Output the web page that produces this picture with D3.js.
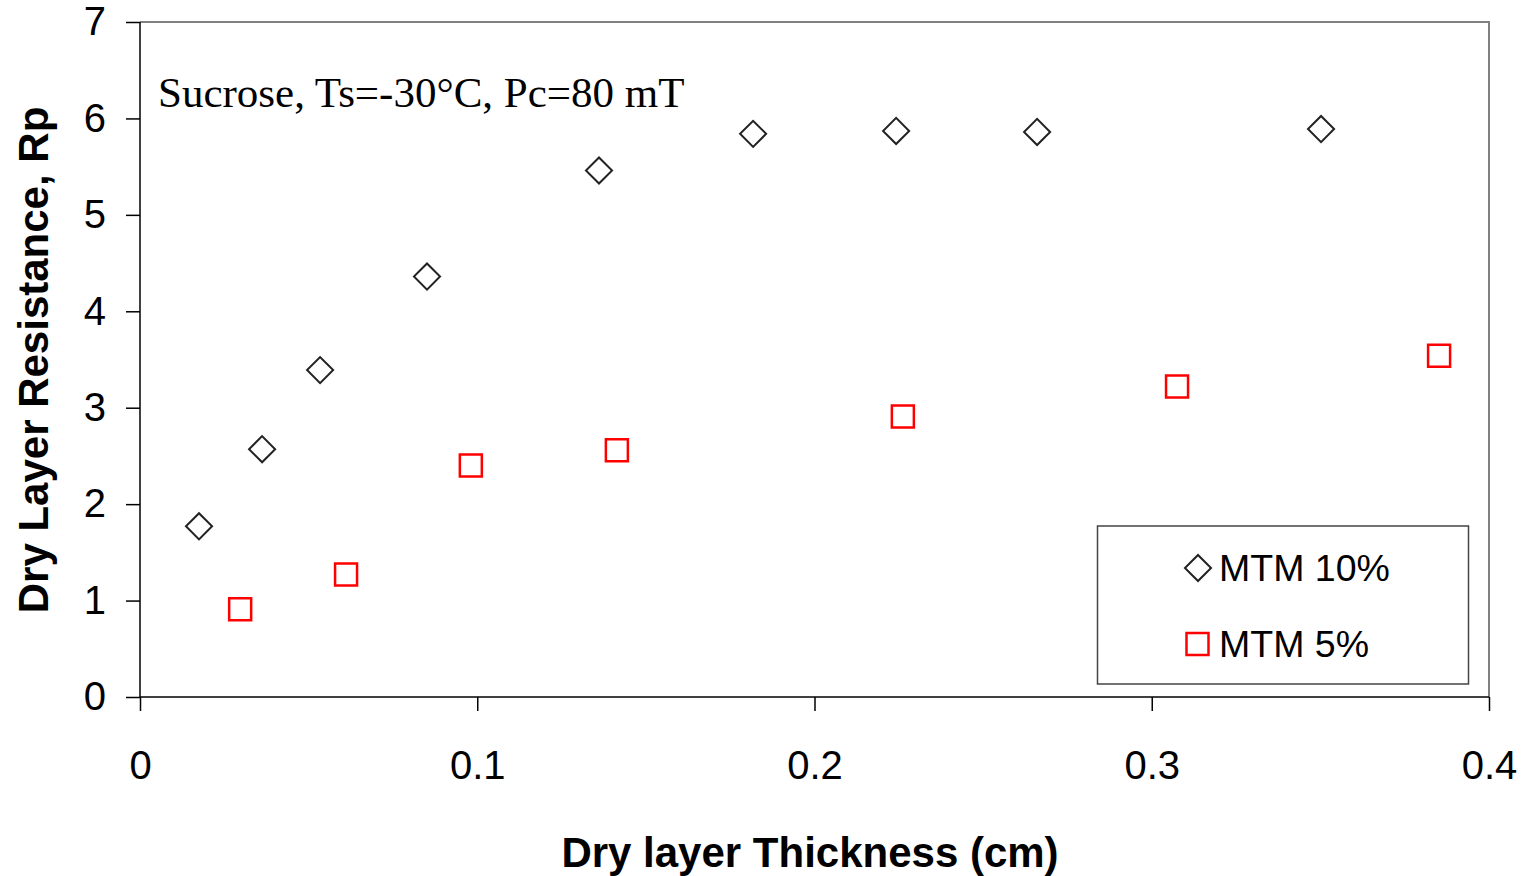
<!DOCTYPE html>
<html>
<head>
<meta charset="utf-8">
<title>Dry Layer Resistance</title>
<script src="https://d3js.org/d3.v7.min.js"></script>
<style>
  body { margin: 0; background: #fff; }
  svg text { font-family: "Liberation Sans", Arial, sans-serif; }
</style>
</head>
<body>
<div id="chart"></div>
<script>
// data
var mtm10X = [0.0175, 0.0362, 0.0534, 0.0851, 0.1361, 0.1818, 0.2242, 0.2660, 0.3502];
var mtm10Y = [1.77, 2.57, 3.39, 4.36, 5.46, 5.84, 5.87, 5.86, 5.89];
var mtm5X = [0.0297, 0.0611, 0.0981, 0.1414, 0.2262, 0.3075, 0.3852];
var mtm5Y = [0.91, 1.27, 2.40, 2.56, 2.91, 3.22, 3.54];
var xTicks = [0, 0.1, 0.2, 0.3, 0.4];
var yTicks = [0, 1, 2, 3, 4, 5, 6, 7];
var seriesNames = ["MTM 10%", "MTM 5%"];

var width = 1527, height = 876;
var plotLeft = 140, plotRight = 1489, plotTop = 22, plotBottom = 697;

var svg = d3.select("#chart").append("svg")
    .attr("width", width)
    .attr("height", height);

var x = d3.scaleLinear().domain([0, 0.4]).range([plotLeft, plotRight]);
var y = d3.scaleLinear().domain([0, 7]).range([plotBottom, plotTop]);

// top and right frame (grey)
svg.append("path")
    .attr("d", "M" + plotLeft + "," + plotTop + "H" + plotRight + "V" + plotBottom)
    .attr("fill", "none")
    .attr("stroke", "#808080")
    .attr("stroke-width", 2);

var yAxis = svg.append("g")
    .attr("transform", "translate(" + plotLeft + ",0)")
    .call(d3.axisLeft(y).tickValues(yTicks).tickSize(14).tickPadding(20).tickFormat(d3.format("d")));

var xAxis = svg.append("g")
    .attr("transform", "translate(0," + plotBottom + ")")
    .call(d3.axisBottom(x).tickValues(xTicks).tickSize(14).tickPadding(40).tickFormat(function(d) { return d === 0 ? "0" : d3.format(".1f")(d); }));

[xAxis, yAxis].forEach(function(a) {
    a.select(".domain").attr("stroke", "#000").attr("stroke-width", 1.5);
    a.selectAll(".tick line").attr("stroke", "#000").attr("stroke-width", 1.5);
    a.selectAll(".tick text").attr("font-size", 40).attr("fill", "#000")
        .style("font-family", "'Liberation Sans', Arial, sans-serif");
});
// domains without outer tick caps
yAxis.select(".domain").attr("d", "M0," + plotTop + "V" + plotBottom);
xAxis.select(".domain").attr("d", "M" + plotLeft + ",0H" + plotRight);

// axis titles
svg.append("text")
    .attr("x", 810).attr("y", 867)
    .attr("text-anchor", "middle")
    .attr("font-size", 42).attr("font-weight", "bold")
    .text("Dry layer Thickness (cm)");

svg.append("text")
    .attr("transform", "translate(48,360) rotate(-90)")
    .attr("text-anchor", "middle")
    .attr("font-size", 42).attr("font-weight", "bold")
    .text("Dry Layer Resistance, Rp");

// annotation
svg.append("text")
    .attr("x", 158).attr("y", 107)
    .attr("font-size", 43)
    .style("font-family", "'Liberation Serif', 'Times New Roman', serif")
    .text("Sucrose, Ts=-30°C, Pc=80 mT");

var diamond = d3.symbol().type(d3.symbolSquare).size(340);
var square = d3.symbol().type(d3.symbolSquare).size(484);

svg.append("g").selectAll("path")
    .data(mtm10X)
    .join("path")
    .attr("transform", function(d, i) { return "translate(" + x(d) + "," + y(mtm10Y[i]) + ") rotate(45)"; })
    .attr("d", diamond)
    .attr("fill", "none")
    .attr("stroke", "#222")
    .attr("stroke-width", 2);

svg.append("g").selectAll("path")
    .data(mtm5X)
    .join("path")
    .attr("transform", function(d, i) { return "translate(" + x(d) + "," + y(mtm5Y[i]) + ")"; })
    .attr("d", square)
    .attr("fill", "none")
    .attr("stroke", "#ff0000")
    .attr("stroke-width", 2.5);

// legend
var legend = svg.append("g");
legend.append("rect")
    .attr("x", 1097.5).attr("y", 526)
    .attr("width", 371).attr("height", 158)
    .attr("fill", "#fff")
    .attr("stroke", "#444")
    .attr("stroke-width", 1.5);

legend.append("path")
    .attr("transform", "translate(1198,568) rotate(45)")
    .attr("d", diamond)
    .attr("fill", "none").attr("stroke", "#222").attr("stroke-width", 2);
legend.append("path")
    .attr("transform", "translate(1197.5,644)")
    .attr("d", square)
    .attr("fill", "none").attr("stroke", "#ff0000").attr("stroke-width", 2.5);

legend.selectAll("text.lbl")
    .data(seriesNames)
    .join("text")
    .attr("class", "lbl")
    .attr("x", 1219)
    .attr("y", function(d, i) { return 581 + i * 76; })
    .attr("font-size", 37.5)
    .text(function(d) { return d; });
</script>
</body>
</html>
